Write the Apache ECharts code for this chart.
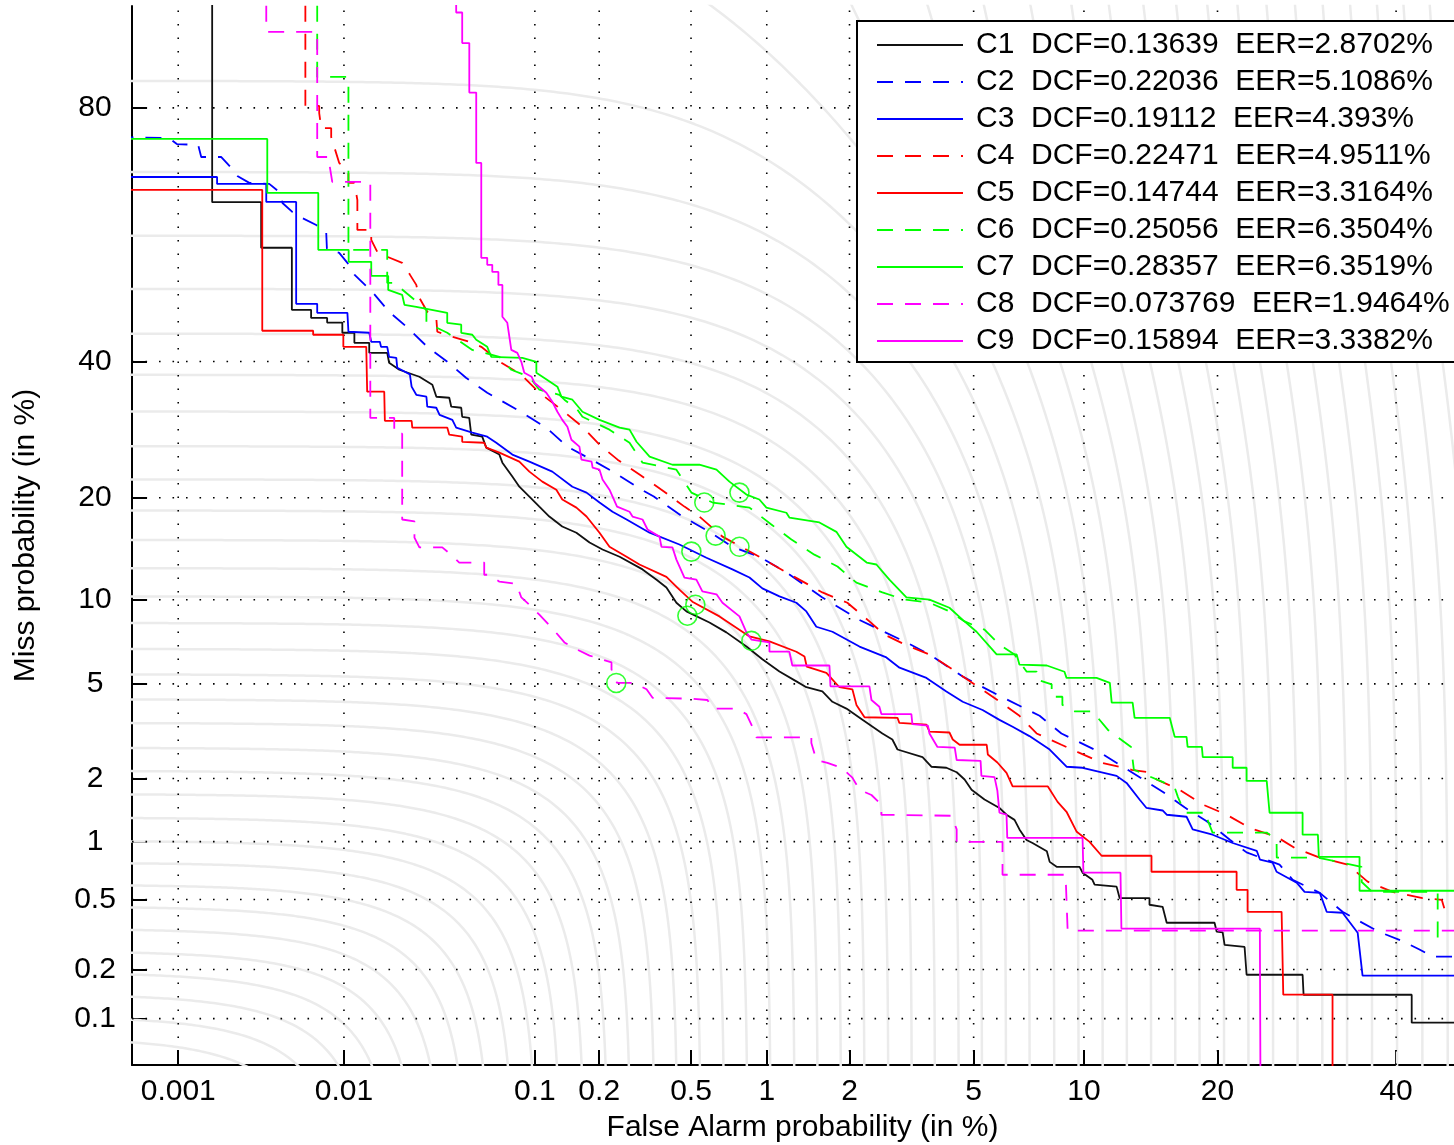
<!DOCTYPE html>
<html><head><meta charset="utf-8">
<script src="https://cdn.jsdelivr.net/npm/echarts@6/dist/echarts.min.js"></script>
<style>html,body{margin:0;padding:0;background:#fff;}#c{width:1454px;height:1145px;}</style>
</head><body><div id="c"></div>
<script>
// ---------------- data (percent values) ----------------
const xTickValues = [0.001, 0.01, 0.1, 0.2, 0.5, 1, 2, 5, 10, 20, 40];
const yTickValues = [0.1, 0.2, 0.5, 1, 2, 5, 10, 20, 40, 80];
const xRange = [0.0005, 50];
const yRange = [0.05, 90];
const names = ['C1','C2','C3','C4','C5','C6','C7','C8','C9'];
const dcfText = ['0.13639','0.22036','0.19112','0.22471','0.14744','0.25056','0.28357','0.073769','0.15894'];
const eerText = ['2.8702','5.1086','4.393','4.9511','3.3164','6.3504','6.3519','1.9464','3.3382'];
// iso-cost contour levels (normalized DCF, %)
const dcfLevels = [0.0754,0.1033,0.1417,0.1915,0.256,0.344,0.457,0.599,0.781,1.008,1.311,1.695,2.165,2.735,3.485,4.345,5.435,6.755,8.345,10.25,12.6,15.3,18.5,22.3,26.8,31.95,37.8,44.7,52.4,61.4,71.4,83.1,96.0,110.2,125.9,143.1,161.8,182.1,204.1,227.5,252.6,278.9,306.8,335.8,366.1,397.3,429.5,462.2,495.4,529.0,562.7];
// minimum-DCF operating points [false alarm %, miss %]
const dcfPoints = [[0.483,8.84],[0.630,15.74],[0.5017,14.14],[0.784,14.61],[0.521,9.62],[0.567,19.43],[0.784,20.63],[0.2386,5.04],[0.873,7.225]];

const C1 = [[0.00164,95],[0.00164,66.8],[0.00328,66.8],[0.00328,59.4],[0.0050,59.4],[0.0050,48.8],[0.00648,48.8],[0.00648,47.4],[0.00802,47.4],[0.00802,46.6],[0.00979,46.6],[0.00979,44.86],[0.01145,44.86],[0.01145,43.15],[0.01386,43.15],[0.01386,41.45],[0.01741,41.45],[0.01783,39.79],[0.02026,38.63],[0.02597,37.48],[0.03042,36.19],[0.03194,34.26],[0.0373,34.1],[0.0382,32.69],[0.0430,32.53],[0.0435,31.14],[0.04726,30.97],[0.0484,28.46],[0.055,28.17],[0.05765,26.59],[0.06705,25.62],[0.0694,24.51],[0.0777,22.66],[0.0841,21.37],[0.0941,20.15],[0.1051,18.95],[0.1173,17.81],[0.135,16.71],[0.1572,16.05],[0.1807,15.04],[0.207,14.35],[0.2469,13.65],[0.3114,12.49],[0.358,11.60],[0.3944,10.96],[0.4346,9.77],[0.4785,9.14],[0.595,8.38],[0.696,7.74],[0.835,6.89],[0.962,6.19],[1.117,5.57],[1.2915,5.11],[1.405,4.85],[1.605,4.67],[1.743,4.25],[1.951,3.99],[2.216,3.59],[2.586,3.15],[2.79,2.97],[2.90,2.69],[3.49,2.49],[3.72,2.26],[4.14,2.236],[4.45,2.135],[4.70,1.98],[4.93,1.777],[5.38,1.60],[5.94,1.46],[6.22,1.355],[6.55,1.28],[6.76,1.15],[7.07,1.02],[7.34,0.985],[8.02,0.895],[8.16,0.790],[8.51,0.745],[9.75,0.745],[9.92,0.694],[10.50,0.637],[10.63,0.600],[12.02,0.586],[12.22,0.509],[14.33,0.509],[14.33,0.468],[15.33,0.456],[15.65,0.372],[19.73,0.372],[19.92,0.332],[20.48,0.328],[20.66,0.279],[22.59,0.271],[22.79,0.186],[28.73,0.186],[28.84,0.1408],[42.0,0.1408],[42.0,0.0942],[50,0.0942]];
const C2 = [[0.0004,76.29],[0.00087,76.16],[0.00098,75.35],[0.00134,75.22],[0.0014,73.55],[0.00187,73.55],[0.0021,72.28],[0.00235,70.80],[0.00278,69.77],[0.00367,69.62],[0.00421,68.40],[0.0044,66.68],[0.00503,65.27],[0.00575,64.29],[0.00694,63.16],[0.00792,62.03],[0.0080,59.05],[0.0094,58.55],[0.01046,56.85],[0.01145,54.85],[0.01441,51.89],[0.01783,48.46],[0.02249,45.71],[0.0286,42.47],[0.03644,39.96],[0.0455,37.32],[0.0583,34.9],[0.0870,31.75],[0.1135,29.49],[0.1427,26.73],[0.1846,24.92],[0.2343,23.18],[0.3082,20.99],[0.3484,20.15],[0.4614,17.81],[0.595,16.14],[0.7355,14.61],[0.937,13.65],[1.186,12.22],[1.605,10.17],[2.164,8.55],[3.10,7.13],[3.67,6.45],[4.64,5.33],[5.86,4.53],[7.67,3.73],[8.76,3.15],[10.94,2.62],[12.34,2.28],[15.33,1.74],[17.1,1.47],[19.02,1.26],[21.19,1.02],[22.79,0.883],[26.2,0.764],[27.63,0.637],[30.69,0.543],[33.37,0.428],[37.69,0.333],[40.82,0.293],[43.0,0.262],[44.7,0.238],[50,0.238]];
const C3 = [[0.0004,70.65],[0.00176,70.65],[0.00176,69.62],[0.00352,69.62],[0.00352,66.84],[0.0053,66.84],[0.0053,49.83],[0.00703,49.83],[0.00703,48.28],[0.01046,48.28],[0.0106,45.03],[0.01386,44.86],[0.01422,43.32],[0.01586,43.32],[0.0161,42.47],[0.01741,42.47],[0.01783,40.79],[0.01951,40.62],[0.01975,38.96],[0.0231,37.87],[0.0236,35.87],[0.0250,34.57],[0.0283,34.26],[0.0286,32.69],[0.0319,32.53],[0.0332,31.44],[0.0387,30.67],[0.0405,29.49],[0.0490,28.76],[0.0583,28.17],[0.0647,27.29],[0.0777,25.62],[0.0941,24.65],[0.1212,23.31],[0.1506,21.36],[0.175,20.63],[0.2006,19.43],[0.2296,18.35],[0.2651,17.48],[0.3341,16.05],[0.4474,14.84],[0.5784,13.55],[0.7355,12.49],[0.858,11.78],[0.962,10.88],[1.117,10.25],[1.2915,9.77],[1.405,9.14],[1.527,8.10],[1.743,7.78],[2.164,6.89],[2.666,6.29],[2.944,5.76],[3.59,5.27],[4.14,4.67],[4.64,4.25],[5.31,3.94],[5.94,3.59],[6.47,3.36],[7.20,3.07],[8.16,2.69],[9.03,2.26],[9.92,2.236],[12.02,2.056],[12.69,1.91],[13.6,1.60],[14.11,1.46],[15.33,1.42],[15.65,1.355],[17.27,1.325],[17.79,1.15],[19.55,1.083],[21.43,0.985],[23.81,0.9],[24.15,0.81],[25.46,0.782],[25.88,0.702],[28.07,0.615],[28.95,0.549],[30.69,0.543],[31.49,0.428],[33.37,0.423],[35.2,0.327],[35.8,0.184],[50,0.184]];
const C4 = [[0.0060,95],[0.0060,80.24],[0.00722,80.24],[0.00722,79.36],[0.00742,77.46],[0.00846,77.46],[0.00846,76.29],[0.0094,72.71],[0.0106,71.24],[0.0106,69.77],[0.01145,69.77],[0.0119,67.15],[0.0119,62.36],[0.01422,62.36],[0.01422,60.71],[0.01535,58.71],[0.01741,57.88],[0.0210,56.85],[0.0231,54.85],[0.0250,53.09],[0.02597,50.86],[0.0286,48.46],[0.0319,47.42],[0.0323,45.03],[0.0387,44.18],[0.0473,43.32],[0.0544,42.47],[0.0686,39.79],[0.086,37.81],[0.1051,34.9],[0.1339,32.23],[0.1676,29.64],[0.2006,27.01],[0.2418,24.92],[0.302,22.92],[0.3757,20.99],[0.4695,18.95],[0.5412,17.81],[0.6713,15.64],[0.937,13.65],[1.186,12.22],[1.605,10.56],[1.966,9.77],[2.34,8.45],[2.626,7.60],[3.10,6.97],[3.67,6.45],[4.33,5.67],[4.96,5.04],[5.86,4.32],[6.76,3.73],[7.53,3.15],[8.76,2.82],[9.65,2.62],[11.12,2.35],[13.04,2.19],[14.33,2.135],[14.86,1.98],[16.69,1.777],[18.67,1.515],[20.86,1.355],[23.09,1.17],[25.88,1.058],[27.85,0.93],[30.45,0.838],[34.0,0.764],[36.42,0.623],[39.55,0.549],[43.40,0.509],[45.9,0.498],[46.4,0.423]];
const C5 = [[0.0004,68.71],[0.00333,68.71],[0.00333,45.20],[0.00666,45.20],[0.00666,44.52],[0.00992,44.52],[0.00992,42.47],[0.01334,42.47],[0.0135,35.06],[0.01677,35.06],[0.0169,30.52],[0.0236,30.52],[0.0238,29.49],[0.03644,29.49],[0.0373,28.46],[0.0435,28.17],[0.0435,27.43],[0.0563,27.29],[0.0577,26.59],[0.0671,25.90],[0.0841,24.65],[0.0941,23.31],[0.1086,22.01],[0.1266,20.99],[0.1351,19.79],[0.1572,18.83],[0.175,17.81],[0.2006,16.05],[0.2225,14.61],[0.2651,13.65],[0.302,12.93],[0.3944,11.84],[0.4474,10.79],[0.5065,9.85],[0.653,8.79],[0.858,7.49],[1.024,7.19],[1.2915,6.60],[1.383,6.34],[1.41,5.81],[1.659,5.51],[1.845,4.85],[2.046,4.76],[2.113,4.13],[2.252,3.68],[2.90,3.66],[2.94,3.49],[3.59,3.43],[3.67,3.21],[4.23,3.18],[4.33,2.97],[4.54,2.82],[5.46,2.82],[5.50,2.56],[5.86,2.36],[6.22,2.12],[6.47,1.84],[8.07,1.84],[8.56,1.56],[9.03,1.40],[9.59,1.119],[10.33,0.998],[11.06,0.849],[14.48,0.849],[14.48,0.702],[21.81,0.702],[21.81,0.5636],[22.89,0.5636],[22.89,0.428],[26.42,0.428],[26.6,0.141],[32.18,0.141],[32.18,0.03]];
const C6 = [[0.00703,95],[0.00703,83.53],[0.0106,83.53],[0.0106,59.05],[0.01741,59.05],[0.01741,53.43],[0.01902,53.43],[0.0283,48.8],[0.0283,46.57],[0.0364,44.86],[0.0490,41.95],[0.0671,40.79],[0.0768,38.63],[0.0941,37.48],[0.1051,35.38],[0.1309,34.57],[0.1382,33.79],[0.1588,32.23],[0.1676,31.14],[0.2225,29.20],[0.2732,27.29],[0.3114,24.51],[0.4346,23.57],[0.5017,20.63],[0.6127,19.43],[0.858,18.83],[1.041,16.93],[1.238,15.34],[1.502,13.85],[1.816,12.75],[2.113,11.35],[2.586,10.56],[3.05,10.01],[3.67,9.77],[4.23,9.14],[4.70,8.45],[5.38,7.91],[5.94,7.0],[6.55,6.45],[7.07,5.57],[7.53,5.57],[7.53,5.2],[8.26,4.98],[8.26,4.45],[8.81,4.45],[8.81,4.13],[9.48,3.89],[10.50,3.89],[11.46,3.26],[13.0,2.76],[13.2,2.19],[15.33,1.93],[16.29,1.82],[16.55,1.647],[17.1,1.385],[19.09,1.385],[19.09,1.28],[19.55,1.11],[24.84,1.11],[25.88,1.02],[25.9,0.83],[30.45,0.83],[35.67,0.745],[35.7,0.62],[37.0,0.549],[45.37,0.549],[45.37,0.279]];
const C7 = [[0.0004,76.04],[0.00357,76.04],[0.00357,68.24],[0.00713,68.24],[0.00713,59.05],[0.01063,59.05],[0.01063,57.02],[0.01422,57.02],[0.01422,54.63],[0.01763,54.63],[0.01763,52.23],[0.0210,51.37],[0.0216,49.66],[0.0250,49.31],[0.0364,48.28],[0.0364,46.57],[0.0430,46.24],[0.0430,44.86],[0.0490,44.52],[0.0513,43.66],[0.0583,42.47],[0.0611,40.79],[0.0870,40.62],[0.1017,39.96],[0.1017,38.13],[0.1143,37.0],[0.1281,35.87],[0.1339,34.26],[0.1506,33.79],[0.1676,31.91],[0.2006,30.67],[0.2469,29.49],[0.2732,29.20],[0.2932,27.43],[0.3341,25.34],[0.4184,24.23],[0.5412,24.23],[0.6353,23.57],[0.7156,22.01],[0.835,20.39],[0.937,19.79],[0.997,18.83],[1.186,18.24],[1.2166,17.70],[1.566,17.15],[1.80,16.14],[1.951,14.61],[2.29,13.11],[2.47,12.93],[2.728,11.60],[3.10,10.17],[3.67,10.01],[4.23,9.40],[4.64,8.55],[5.10,7.78],[5.83,6.45],[6.64,6.45],[6.76,5.91],[8.02,5.87],[8.92,5.56],[9.03,5.27],[10.75,5.27],[11.58,5.04],[11.70,4.22],[13.11,4.22],[13.25,3.66],[15.89,3.66],[16.29,3.05],[17.27,3.05],[17.36,2.76],[18.59,2.76],[18.67,2.49],[21.43,2.49],[21.43,2.236],[22.79,2.236],[22.79,1.95],[24.84,1.95],[25.14,1.385],[28.73,1.385],[28.73,1.083],[30.47,1.083],[30.58,0.838],[35.43,0.838],[35.43,0.557],[50,0.557]];
const C8 = [[0.00352,95],[0.00352,87.89],[0.00703,87.89],[0.00703,73.55],[0.00824,73.55],[0.00824,72.71],[0.00858,69.92],[0.01405,69.92],[0.01405,30.97],[0.01902,30.97],[0.01902,28.61],[0.0210,28.61],[0.0210,17.48],[0.02444,17.26],[0.02444,15.54],[0.02597,14.55],[0.0343,14.55],[0.0382,13.82],[0.0420,13.11],[0.0563,13.11],[0.0563,12.02],[0.0597,12.02],[0.0671,11.43],[0.0813,11.26],[0.0860,10.17],[0.0941,9.62],[0.1051,8.91],[0.1228,7.91],[0.1382,7.13],[0.1588,6.71],[0.1807,6.39],[0.2272,6.03],[0.2272,5.67],[0.2405,5.04],[0.2874,5.04],[0.3242,4.76],[0.3442,4.41],[0.5017,4.37],[0.5838,4.32],[0.6127,3.99],[0.763,3.99],[0.835,3.79],[0.881,3.36],[0.913,3.03],[1.465,3.03],[1.465,2.87],[1.527,2.42],[1.673,2.35],[1.875,2.236],[2.046,2.02],[2.164,1.777],[2.377,1.68],[2.566,1.515],[2.566,1.355],[4.295,1.34],[4.45,1.15],[4.45,0.998],[6.06,0.998],[6.06,0.677],[8.98,0.677],[9.09,0.336],[50,0.336]];
const C9 = [[0.0405,95],[0.0405,89.5],[0.0435,89.5],[0.0435,86.9],[0.0473,86.9],[0.0473,81.8],[0.0513,81.8],[0.0513,72.71],[0.0544,72.71],[0.0544,57.71],[0.0583,57.71],[0.0583,56.51],[0.0618,56.51],[0.0618,55.31],[0.0663,55.31],[0.0663,53.09],[0.0694,53.09],[0.0694,47.6],[0.0734,46.57],[0.0768,41.95],[0.0822,41.45],[0.086,39.96],[0.0889,38.13],[0.0965,37.48],[0.0995,36.51],[0.1135,34.9],[0.1212,33.47],[0.1281,31.91],[0.1351,30.67],[0.1427,29.64],[0.149,27.72],[0.1623,26.73],[0.1658,24.92],[0.1846,24.65],[0.1866,23.84],[0.2006,23.57],[0.207,22.27],[0.2225,20.99],[0.2405,18.95],[0.2732,18.35],[0.2816,17.81],[0.3114,17.48],[0.3274,16.39],[0.3685,15.64],[0.3757,14.61],[0.4184,14.55],[0.4346,13.38],[0.4695,11.78],[0.5261,11.60],[0.5568,10.64],[0.6353,10.41],[0.6713,9.77],[0.7841,8.79],[0.835,7.74],[0.873,7.30],[1.024,7.13],[1.024,6.60],[1.2166,6.60],[1.248,5.87],[1.701,5.87],[1.715,4.89],[2.34,4.89],[2.377,4.32],[2.527,4.06],[2.566,3.79],[3.216,3.79],[3.24,3.45],[3.63,3.40],[3.67,3.15],[3.886,2.76],[4.39,2.74],[4.45,2.42],[5.24,2.40],[5.27,2.056],[5.75,2.03],[5.86,1.757],[5.94,1.385],[6.22,1.355],[6.25,1.045],[9.92,1.045],[9.97,0.694],[12.28,0.694],[12.34,0.345],[24.13,0.345],[24.2,0.03]];

const curves = [C1, C2, C3, C4, C5, C6, C7, C8, C9];
const colors = ['#111111','#0000ff','#0000ff','#ff0000','#ff0000','#00ff00','#00ff00','#ff00ff','#ff00ff'];
const dashed = [false, true, false, true, false, true, false, true, false];

// ---------------- probit (normal deviate) scale ----------------
function probit(pct) {
  const p = pct / 100;
  const a = [-3.969683028665376e+01, 2.209460984245205e+02, -2.759285104469687e+02, 1.383577518672690e+02, -3.066479806614716e+01, 2.506628277459239e+00];
  const b = [-5.447609879822406e+01, 1.615858368580409e+02, -1.556989798598866e+02, 6.680131188771972e+01, -1.328068155288572e+01];
  const c = [-7.784894002430293e-03, -3.223964580411365e-01, -2.400758277161838e+00, -2.549671348793020e+00, 4.374664141464968e+00, 2.938163982698783e+00];
  const d = [7.784695709041462e-03, 3.224671290700398e-01, 2.445134137142996e+00, 3.754408661907416e+00];
  const plow = 0.02425, phigh = 1 - plow;
  let q, r;
  if (p < plow) {
    q = Math.sqrt(-2 * Math.log(p));
    return (((((c[0]*q+c[1])*q+c[2])*q+c[3])*q+c[4])*q+c[5]) / ((((d[0]*q+d[1])*q+d[2])*q+d[3])*q+1);
  } else if (p <= phigh) {
    q = p - 0.5; r = q * q;
    return (((((a[0]*r+a[1])*r+a[2])*r+a[3])*r+a[4])*r+a[5])*q / (((((b[0]*r+b[1])*r+b[2])*r+b[3])*r+b[4])*r+1);
  } else {
    q = Math.sqrt(-2 * Math.log(1 - p));
    return -(((((c[0]*q+c[1])*q+c[2])*q+c[3])*q+c[4])*q+c[5]) / ((((d[0]*q+d[1])*q+d[2])*q+d[3])*q+1);
  }
}
const tr = arr => arr.map(([fa, m]) => [probit(fa), probit(m)]);
const xMin = probit(xRange[0]), xMax = probit(xRange[1]);
const yMin = probit(yRange[0]), yMax = probit(yRange[1]);

// iso-cost curve: Pmiss + 9.9 * Pfa = level
const COST_RATIO = 9.9;
function contour(L) {
  const pts = [];
  const faEnd = L / COST_RATIO;
  const l0 = Math.log10(1e-4), l1 = Math.log10(faEnd);
  for (let i = 0; i <= 220; i++) {
    const fa = Math.pow(10, l0 + (l1 - l0) * i / 220);
    const m = L - COST_RATIO * fa;
    if (m > 1e-3 && m < 99.995 && fa < 99.9) pts.push([fa, m]);
  }
  const m0 = Math.log10(1e-3), m1 = Math.log10(Math.min(L, 99.99));
  for (let i = 0; i <= 220; i++) {
    const m = Math.pow(10, m0 + (m1 - m0) * i / 220);
    const fa = (L - m) / COST_RATIO;
    if (fa > 1e-5 && fa < 99.9) pts.push([fa, m]);
  }
  pts.sort((p, q) => p[0] - q[0]);
  return tr(pts);
}

const FONT = '"Liberation Sans", Arial, Helvetica, sans-serif';
const FS = 30;
const series = [];

dcfLevels.forEach(L => series.push({
  type: 'line', data: contour(L), symbol: 'none', silent: true, z: 1,
  lineStyle: { color: '#ebebeb', width: 2.5 }, legendHoverLink: false
}));

xTickValues.forEach(v => series.push({
  type: 'line', data: [[probit(v), yMin], [probit(v), yMax]], symbol: 'none', silent: true, z: 2,
  lineStyle: { color: '#000', width: 1.6, type: [1.6, 11.9] }
}));
yTickValues.forEach(v => series.push({
  type: 'line', data: [[xMin, probit(v)], [xMax, probit(v)]], symbol: 'none', silent: true, z: 2,
  lineStyle: { color: '#000', width: 1.6, type: [1.6, 11.9] }
}));

curves.forEach((cv, i) => series.push({
  name: names[i], type: 'line', data: tr(cv), symbol: 'none', z: 3, clip: true,
  lineStyle: { color: colors[i], width: 1.8, type: dashed[i] ? [16, 12] : 'solid' },
  itemStyle: { color: colors[i] }
}));

series.push({
  type: 'scatter', data: tr(dcfPoints), symbol: 'circle', symbolSize: 19, z: 4, silent: true,
  itemStyle: { color: 'rgba(0,0,0,0)', borderColor: '#00ff00', borderWidth: 1.6 }
});

function labelFor(val, ticks) {
  let best = ticks[0], bd = 1e9;
  ticks.forEach(t => { const dd = Math.abs(probit(t) - val); if (dd < bd) { bd = dd; best = t; } });
  return String(best);
}

const chart = echarts.init(document.getElementById('c'), null, { renderer: 'canvas' });
chart.setOption({
  animation: false,
  backgroundColor: '#fff',
  grid: { left: 132, top: 6, width: 1341, height: 1059, containLabel: false, outerBoundsMode: 'none' },
  xAxis: {
    type: 'value', min: xMin, max: xMax,
    name: 'False Alarm probability (in %)', nameLocation: 'middle', nameGap: 48,
    nameTextStyle: { fontSize: FS, fontFamily: FONT, color: '#000' },
    axisLine: { onZero: false, lineStyle: { color: '#000', width: 2 } },
    axisTick: { inside: true, length: 15, lineStyle: { color: '#000', width: 2 }, customValues: xTickValues.map(probit) },
    axisLabel: { customValues: xTickValues.map(probit), margin: 12, fontSize: FS, fontFamily: FONT, color: '#000',
      formatter: v => labelFor(v, xTickValues) },
    splitLine: { show: false }
  },
  yAxis: {
    type: 'value', min: yMin, max: yMax,
    name: 'Miss probability (in %)', nameLocation: 'middle', nameGap: 91, nameRotate: 90,
    nameTextStyle: { fontSize: FS, fontFamily: FONT, color: '#000' },
    axisLine: { onZero: false, lineStyle: { color: '#000', width: 2 } },
    axisTick: { inside: true, length: 15, lineStyle: { color: '#000', width: 2 }, customValues: yTickValues.map(probit) },
    axisLabel: { customValues: yTickValues.map(probit), margin: 37, align: 'center', fontSize: FS, fontFamily: FONT, color: '#000',
      formatter: v => labelFor(v, yTickValues) },
    splitLine: { show: false }
  },
  legend: {
    data: names, orient: 'vertical', left: 857, top: 21,
    padding: [9, 80, 6, 19], itemWidth: 86, itemHeight: 30, itemGap: 7,
    backgroundColor: '#fff', borderColor: '#000', borderWidth: 2, borderRadius: 0,
    selectedMode: false,
    itemStyle: { opacity: 0 },
    textStyle: { fontSize: FS, lineHeight: 30, fontFamily: FONT, color: '#000', padding: [0, 0, 0, 8] },
    formatter: n => { const i = names.indexOf(n); return n + '  DCF=' + dcfText[i] + '  EER=' + eerText[i] + '%'; }
  },
  series: series
});
</script>
</body></html>
